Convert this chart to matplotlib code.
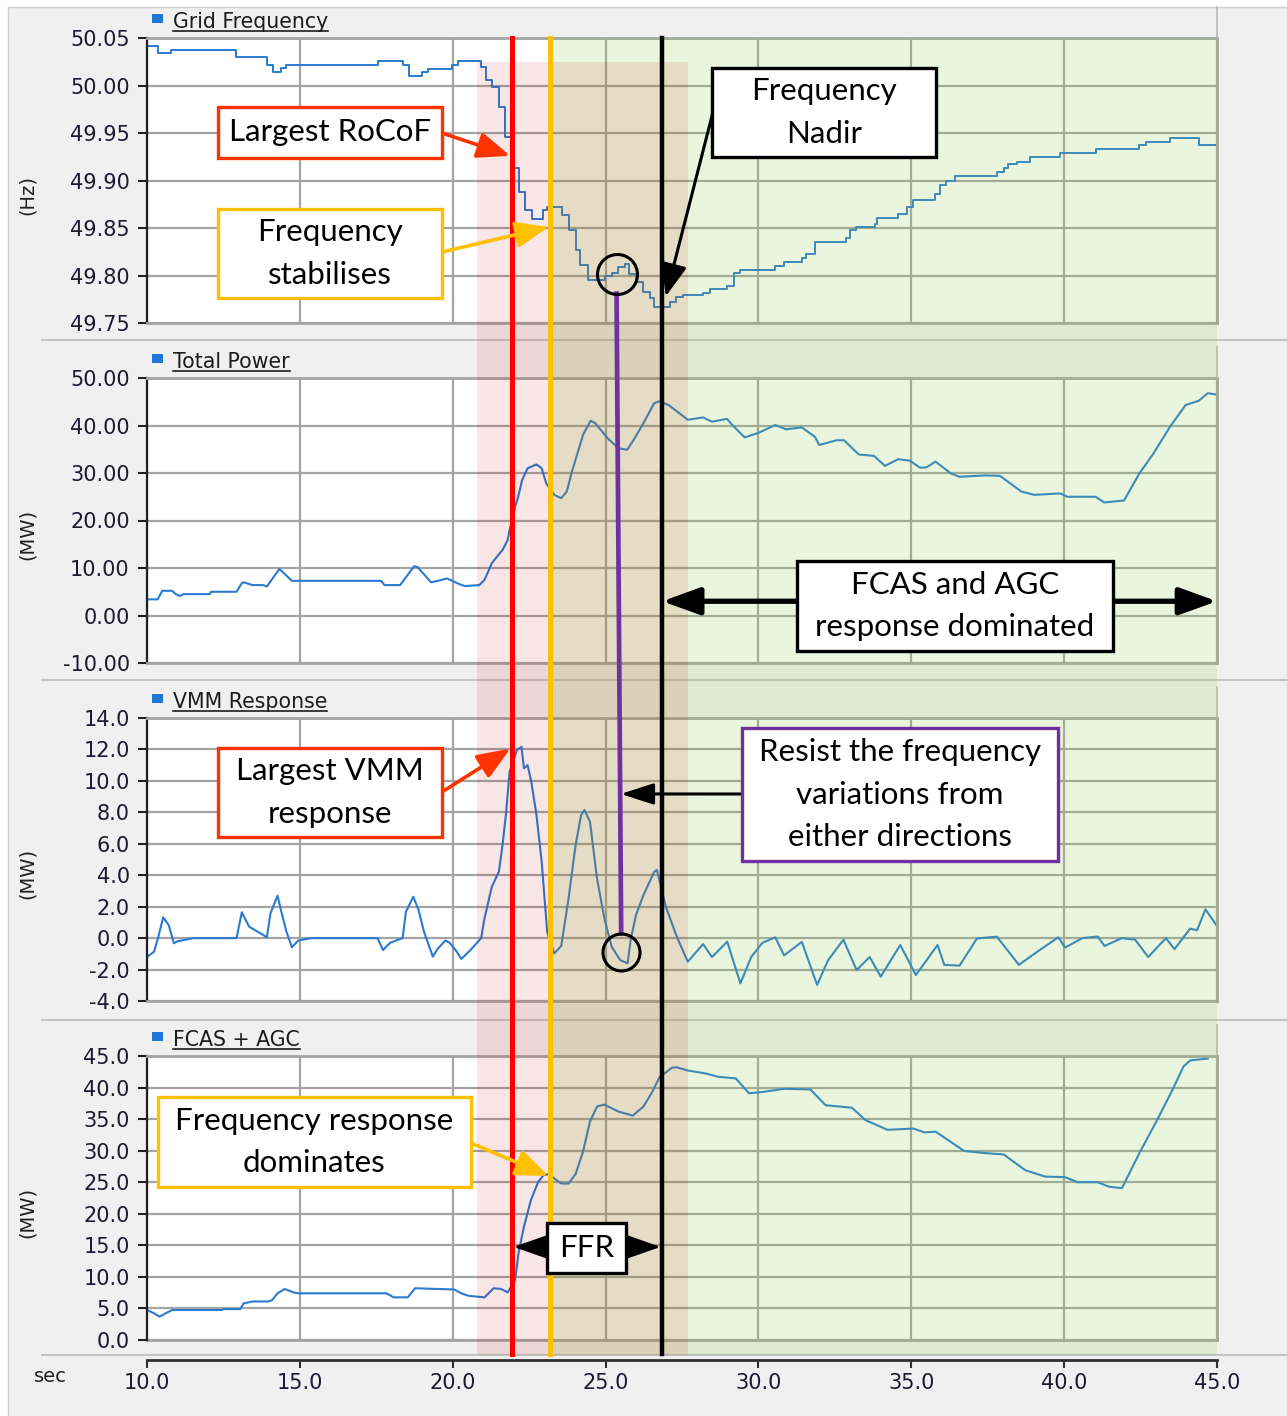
import matplotlib
matplotlib.use("Agg")
import matplotlib.pyplot as plt
from matplotlib.patches import Rectangle, FancyArrowPatch, ArrowStyle
from matplotlib.lines import Line2D
from matplotlib.ticker import FormatStrFormatter
from matplotlib.transforms import blended_transform_factory, IdentityTransform

plt.rcParams["font.family"] = ["DejaVu Sans"]

# ---- data -------------------------------------------------------------
freq_t = [10.0, 10.36, 10.77, 12.9, 13.92, 14.12, 14.38, 14.55, 17.57, 18.36,
          18.56, 19.0, 19.18, 19.99, 20.17, 20.93, 21.1, 21.3, 21.5, 21.72,
          21.96, 22.16, 22.37, 22.6, 22.95, 23.09, 23.58, 23.8, 24.03, 24.17,
          24.43, 24.98, 25.2, 25.41, 25.63, 25.78, 26.0, 26.22, 26.44, 26.58,
          27.1, 27.3, 27.53, 28.19, 28.4, 28.97, 29.19, 29.4, 30.55, 30.84,
          31.42, 31.56, 31.85, 32.85, 33.0, 33.2, 33.8, 33.87, 34.57, 34.86,
          35.07, 35.79, 35.94, 36.15, 36.43, 37.8, 38.02, 38.16, 38.45, 38.87,
          39.85, 41.03, 42.44, 42.68, 43.47, 44.4, 45.0]
freq_v = [50.042, 50.034, 50.037, 50.030, 50.022, 50.014, 50.018, 50.022, 50.026, 50.022,
          50.010, 50.014, 50.017, 50.022, 50.026, 50.019, 50.006, 49.998, 49.977, 49.946,
          49.913, 49.888, 49.869, 49.860, 49.869, 49.872, 49.864, 49.848, 49.827, 49.811,
          49.795, 49.800, 49.803, 49.809, 49.812, 49.802, 49.793, 49.783, 49.776, 49.767,
          49.772, 49.777, 49.779, 49.782, 49.786, 49.789, 49.803, 49.806, 49.810, 49.814,
          49.818, 49.823, 49.835, 49.839, 49.848, 49.851, 49.854, 49.861, 49.865, 49.872,
          49.880, 49.886, 49.895, 49.900, 49.905, 49.909, 49.913, 49.917, 49.920, 49.925,
          49.929, 49.933, 49.937, 49.941, 49.945, 49.937, 49.937]

power_t = [10.0, 10.35, 10.5, 10.82, 10.94, 11.08, 11.19, 12.05, 12.1, 12.93,
           13.1, 13.16, 13.45, 13.8, 13.92, 14.33, 14.74, 17.66, 17.77, 18.28,
           18.74, 18.85, 19.29, 19.52, 19.81, 19.95, 20.22, 20.4, 20.87, 21.04,
           21.28, 21.45, 21.63, 21.8, 21.86, 22.04, 22.13, 22.27, 22.45, 22.74,
           22.91, 23.06, 23.32, 23.55, 23.73, 23.9, 24.08, 24.26, 24.51, 24.66,
           25.07, 25.42, 25.71, 25.95, 26.24, 26.59, 26.77, 27.06, 27.41, 27.69,
           28.19, 28.48, 28.97, 29.19, 29.55, 29.98, 30.55, 30.91, 31.42, 31.85,
           31.99, 32.56, 32.8, 33.28, 33.78, 34.14, 34.57, 34.95, 35.29, 35.5,
           35.79, 36.3, 36.58, 37.44, 37.9, 38.6, 39.02, 39.88, 40.1, 41.03,
           41.31, 41.96, 42.46, 42.89, 43.47, 43.97, 44.4, 44.7, 45.0]
power_v = [3.4, 3.4, 5.2, 5.2, 4.5, 4.1, 4.5, 4.5, 5.0, 5.0,
           6.8, 7.0, 6.4, 6.4, 6.1, 9.8, 7.3, 7.3, 6.4, 6.4,
           10.4, 10.2, 7.0, 7.3, 7.8, 7.4, 6.6, 6.2, 6.4, 7.5,
           11.0, 12.4, 13.8, 15.9, 18.0, 22.9, 24.7, 28.5, 31.0, 31.8,
           31.0, 27.8, 25.4, 24.7, 26.1, 30.3, 34.1, 38.0, 41.0, 40.5,
           37.3, 35.2, 34.9, 37.3, 40.5, 44.7, 45.1, 44.3, 42.6, 41.2,
           41.7, 40.8, 41.4, 39.8, 37.5, 38.4, 40.1, 39.2, 39.6, 37.6,
           35.9, 36.9, 36.9, 33.9, 33.6, 31.5, 32.9, 32.6, 31.1, 31.2,
           32.4, 29.9, 29.2, 29.5, 29.4, 26.1, 25.4, 25.7, 25.0, 25.0,
           23.8, 24.2, 29.9, 33.8, 39.8, 44.3, 45.2, 46.8, 46.5]

vmm_t = [10.0, 10.23, 10.36, 10.53, 10.71, 10.88, 11.0, 11.52, 12.93, 13.1,
         13.34, 13.8, 13.92, 14.04, 14.27, 14.38, 14.56, 14.74, 14.95, 15.38,
         17.54, 17.72, 17.95, 18.36, 18.47, 18.71, 18.88, 19.06, 19.35, 19.5,
         19.76, 19.9, 20.11, 20.28, 20.58, 20.93, 21.04, 21.28, 21.51, 21.63,
         21.75, 21.86, 22.1, 22.25, 22.33, 22.45, 22.57, 22.74, 22.91, 23.09,
         23.32, 23.55, 23.79, 24.02, 24.2, 24.31, 24.49, 24.72, 24.96, 25.2,
         25.48, 25.72, 25.83, 26.0, 26.24, 26.59, 26.68, 26.97, 27.33, 27.69,
         28.19, 28.48, 28.98, 29.41, 29.77, 30.13, 30.55, 30.84, 31.42, 31.92,
         32.28, 32.78, 33.21, 33.64, 34.0, 34.64, 35.15, 35.86, 36.08, 36.58,
         37.15, 37.8, 38.52, 39.17, 39.81, 40.03, 40.6, 41.1, 41.32, 41.89,
         42.32, 42.75, 43.33, 43.61, 44.12, 44.35, 44.62, 45.0]
vmm_v = [-1.2, -0.87, 0.0, 1.32, 0.83, -0.33, -0.2, 0.0, 0.0, 1.64,
         0.73, 0.2, 0.05, 1.58, 2.7, 1.8, 0.41, -0.58, -0.15, 0.0,
         0.0, -0.76, -0.3, 0.0, 1.68, 2.63, 1.8, 0.41, -1.18, -0.7,
         -0.15, -0.3, -0.8, -1.33, -0.76, 0.0, 1.26, 3.27, 4.22, 5.92,
         8.04, 10.58, 11.96, 12.17, 10.8, 11.0, 9.95, 7.83, 4.86, 0.41,
         -0.97, -0.5, 2.53, 5.92, 7.83, 8.15, 7.4, 3.8, 1.26, -0.55,
         -1.4, -1.6, 0.0, 1.5, 2.74, 4.22, 4.33, 2.0, 0.09, -1.5,
         -0.38, -1.2, -0.23, -2.88, -1.18, -0.3, 0.05, -1.1, -0.24, -2.98,
         -1.4, -0.1, -2.03, -1.2, -2.45, -0.44, -2.35, -0.44, -1.7, -1.75,
         -0.02, 0.09, -1.7, -0.8, 0.05, -0.6, 0.0, 0.1, -0.5, 0.0,
         -0.1, -1.2, 0.0, -0.7, 0.6, 0.5, 1.83, 0.77]

fcas_t = [10.0, 10.23, 10.41, 10.6, 10.82, 12.45, 12.5, 13.05, 13.16, 13.45,
          13.95, 14.09, 14.27, 14.5, 14.79, 14.95, 17.83, 18.07, 18.53, 18.77,
          20.05, 20.28, 20.52, 21.04, 21.34, 21.57, 21.8, 22.04, 22.16, 22.33,
          22.56, 22.8, 22.97, 23.15, 23.32, 23.55, 23.79, 24.02, 24.26, 24.49,
          24.72, 24.96, 25.42, 25.89, 26.24, 26.53, 26.77, 27.0, 27.17, 27.33,
          27.69, 28.26, 28.69, 29.26, 29.69, 30.13, 30.84, 31.7, 32.2, 33.06,
          33.5, 34.22, 35.07, 35.43, 35.8, 36.73, 37.44, 38.02, 38.73, 39.37,
          40.03, 40.45, 41.1, 41.46, 41.89, 42.46, 43.04, 43.54, 43.9, 44.12, 44.7]
fcas_v = [4.75, 4.23, 3.7, 4.2, 4.75, 4.75, 4.9, 4.9, 5.8, 6.1,
          6.1, 6.3, 7.4, 8.08, 7.55, 7.4, 7.4, 6.76, 6.76, 8.2,
          8.0, 7.4, 7.0, 6.76, 8.2, 8.1, 7.55, 9.5, 14.0, 17.95,
          22.2, 25.1, 26.1, 26.3, 25.6, 24.8, 24.8, 26.3, 29.8, 34.6,
          37.0, 37.3, 36.2, 35.55, 37.0, 39.35, 41.7, 42.5, 43.15, 43.2,
          42.7, 42.25, 41.7, 41.45, 39.1, 39.3, 39.8, 39.7, 37.2, 36.8,
          34.85, 33.3, 33.5, 32.9, 33.0, 29.95, 29.6, 29.4, 26.9, 25.9,
          25.8, 25.0, 25.0, 24.3, 24.05, 29.6, 34.85, 39.6, 43.3, 44.3, 44.6]

panel_names = ["Grid Frequency", "Total Power", "VMM Response", "FCAS + AGC"]
panel_units = ["(Hz)", "(MW)", "(MW)", "(MW)"]
panel_yticks = [[49.75, 49.80, 49.85, 49.90, 49.95, 50.00, 50.05],
                [-10, 0, 10, 20, 30, 40, 50],
                [-4, -2, 0, 2, 4, 6, 8, 10, 12, 14],
                [0, 5, 10, 15, 20, 25, 30, 35, 40, 45]]
panel_fmt = ["%.2f", "%.2f", "%.1f", "%.1f"]
x_ticks = [10, 15, 20, 25, 30, 35, 40, 45]

# event times (s)
t_rocof = 21.94
t_stable = 23.18
t_nadir = 26.85
pink_span = (20.8, 27.7)
green_span = (23.25, 45.0)
circle_freq = (25.36, 49.802)
circle_vmm = (25.51, -0.88)

# ---- layout -------------------------------------------------------------
W, H = 1287, 1416
fig = plt.figure(figsize=(W / 100, H / 100), dpi=100, facecolor="#f0f0f0")
ID = IdentityTransform()


def dpt(x, y):
    # pixel position measured from the top-left corner -> display coords
    return (x, H - y)


# white outer margin and panel frame
fig.add_artist(Rectangle((0, 0), 8, H, transform=ID, fc="white", lw=0, zorder=-5))
fig.add_artist(Rectangle((0, H - 7), W, 7, transform=ID, fc="white", lw=0, zorder=-5))
fig.add_artist(Line2D([8, 8], [0, H - 7], transform=ID, color="#d0d0d0", lw=1))
fig.add_artist(Line2D([8, W], [H - 7, H - 7], transform=ID, color="#d0d0d0", lw=1))
for ysep in [340, 680, 1020, 1355]:
    fig.add_artist(Line2D([42, W], [H - ysep, H - ysep], transform=ID,
                          color="#c4c4c4", lw=1.5))

panel_px = [(38, 323), (378, 663), (718, 1001), (1056, 1340)]
series = [(freq_t, freq_v), (power_t, power_v), (vmm_t, vmm_v), (fcas_t, fcas_v)]
grid_c = "#a4a4a4"
line_c = "#2a7ad2"
tick_c = "#1a1a30"
axes = []

for i, (top, bot) in enumerate(panel_px):
    ax = fig.add_axes([147 / W, 1 - bot / H, 1070 / W, (bot - top) / H])
    axes.append(ax)
    t, v = series[i]
    if i == 0:
        ax.plot(t, v, color=line_c, lw=1.4, drawstyle="steps-post")
    else:
        ax.plot(t, v, color=line_c, lw=1.5)
    ax.set_facecolor("white")
    ax.set_xlim(10, 45)
    ax.set_ylim(panel_yticks[i][0], panel_yticks[i][-1])
    ax.set_xticks(x_ticks)
    ax.set_yticks(panel_yticks[i])
    ax.yaxis.set_major_formatter(FormatStrFormatter(panel_fmt[i]))
    ax.grid(True, color=grid_c, lw=1.6)
    ax.set_axisbelow(True)
    for s in ["top", "right", "bottom"]:
        ax.spines[s].set_color(grid_c)
        ax.spines[s].set_linewidth(2)
    ax.spines["left"].set_color("#202020")
    ax.spines["left"].set_linewidth(1.6)
    ax.tick_params(axis="y", direction="out", length=6.5, width=1.5, color="#202020",
                   labelsize=15, labelcolor=tick_c, pad=6)
    ax.set_ylabel(panel_units[i], fontsize=14, color="#202020")
    ax.yaxis.set_label_coords(-110 / 1070, 0.45)
    if i < 3:
        ax.tick_params(axis="x", length=0, labelbottom=False)
    else:
        ax.spines["bottom"].set_position(("outward", 14.4))
        ax.spines["bottom"].set_color("#303030")
        ax.xaxis.set_major_formatter(FormatStrFormatter("%.1f"))
        ax.tick_params(axis="x", direction="out", length=5.5, width=1.5, color="#303030",
                       labelsize=15, labelcolor=tick_c, pad=4)
        ax.axhline(panel_yticks[i][0], color=grid_c, lw=2, clip_on=False)

    # legend strip above each plot
    fig.add_artist(Line2D([1217, 1217], [H - top + 31, H - top], transform=ID,
                          color="#b8b8b8", lw=1.2))
    fig.add_artist(Rectangle(dpt(152, top - 15), 11, 9, transform=ID,
                             fc="#1e78d8", lw=0))

fig.text(50, H - 1376, "sec", transform=ID, ha="center", va="center",
         fontsize=14, color="#202020")

# legend labels with underline
fig.canvas.draw()
renderer = fig.canvas.get_renderer()
for i, (top, bot) in enumerate(panel_px):
    lab = fig.text(173, H - (top - 16), panel_names[i], transform=ID, ha="left",
                   va="center", fontsize=14.8, color="#1c1c1c")
    bb = lab.get_window_extent(renderer)
    fig.add_artist(Line2D([bb.x0, bb.x1], [bb.y0 + 1, bb.y0 + 1], transform=ID,
                          color="#1c1c1c", lw=1.2))

ax1, ax2, ax3, ax4 = axes

# ---- shaded regions and event lines ------------------------------------
bt = blended_transform_factory(ax1.transData, ID)
fig.add_artist(Rectangle((green_span[0], H - 1355), green_span[1] - green_span[0], 1355 - 38,
                         transform=bt, fc="#92d050", alpha=0.2, lw=0, zorder=5))
fig.add_artist(Rectangle((pink_span[0], H - 1355), pink_span[1] - pink_span[0], 1355 - 62,
                         transform=bt, fc="#c00000", alpha=0.1, lw=0, zorder=6))

for t_ev, col, lw in [(t_rocof, "#ff0000", 3.6), (t_stable, "#ffc000", 3.6),
                      (t_nadir, "#000000", 3.2)]:
    fig.add_artist(Line2D([t_ev, t_ev], [H - 38, H - 1354], transform=bt,
                          color=col, lw=lw, zorder=10))

# circles and the purple link between them
r1, r3 = 20, 18.5
fig.add_artist(Line2D([circle_freq[0]], [circle_freq[1]], transform=ax1.transData,
                      marker="o", ms=2 * r1 * 0.72, mfc="none", mec="black", mew=2.2,
                      zorder=12))
fig.add_artist(Line2D([circle_vmm[0]], [circle_vmm[1]], transform=ax3.transData,
                      marker="o", ms=2 * r3 * 0.72, mfc="none", mec="black", mew=2.2,
                      zorder=12))
p1 = ax1.transData.transform(circle_freq)
p3 = ax3.transData.transform(circle_vmm)
fig.add_artist(Line2D([p1[0], p3[0]], [p1[1] - r1, p3[1] + r3], transform=ID,
                      color="#7030a0", lw=3.4, zorder=11))


# ---- annotation boxes and arrows ---------------------------------------
def box(x0, y0, x1, y1, ec, text):
    fig.add_artist(Rectangle(dpt(x0, y1), x1 - x0, y1 - y0, transform=ID,
                             fc="white", ec=ec, lw=2.4, zorder=20))
    fig.text((x0 + x1) / 2, H - (y0 + y1) / 2, text, transform=ID, ha="center",
             va="center", fontsize=22.5, family="Lato", color="black",
             linespacing=1.63, zorder=21)


def arrow(start, end, col, lw=2.2, hl=20, hw=8, style="-|>", z=19):
    fig.add_artist(FancyArrowPatch(start, end, transform=ID,
                                   arrowstyle=ArrowStyle(style, head_length=hl, head_width=hw),
                                   mutation_scale=1, lw=lw, color=col,
                                   shrinkA=0, shrinkB=0, zorder=z))


red_c, yel_c, pur_c = "#ff3300", "#ffc000", "#7030a0"

arrow(dpt(442, 133), ax1.transData.transform((t_rocof - 0.06, 49.926)), red_c, lw=2.6)
box(218, 107, 442, 158, red_c, "Largest RoCoF")

arrow(dpt(442, 252), ax1.transData.transform((t_stable - 0.05, 49.851)), yel_c, lw=2.6)
box(218, 209, 442, 298, yel_c, "Frequency\nstabilises")

arrow(dpt(713, 112), ax1.transData.transform((26.97, 49.778)), "black", lw=2.2)
box(712, 68, 936, 157, "black", "Frequency\nNadir")

arrow(ax2.transData.transform((t_nadir, 3.0)), ax2.transData.transform((45.0, 3.0)),
      "black", lw=3.8, hl=23, hw=8.3, style="<|-|>")
box(797, 561, 1113, 651, "black", "FCAS and AGC\nresponse dominated")

arrow(dpt(442, 792), ax3.transData.transform((t_rocof - 0.06, 12.05)), red_c, lw=2.6)
box(218, 748, 442, 837, red_c, "Largest VMM\nresponse")

arrow(dpt(745, 794), ax3.transData.transform((25.5, 9.17)), "black", lw=2.2, hl=20, hw=6.5)
box(742, 728, 1058, 861, pur_c, "Resist the frequency\nvariations from\neither directions")

arrow(dpt(471, 1143), ax4.transData.transform((t_stable - 0.05, 26.0)), yel_c, lw=2.6)
box(158, 1097, 471, 1187, yel_c, "Frequency response\ndominates")

arrow(ax4.transData.transform((t_rocof + 0.05, 14.75)), ax4.transData.transform((t_nadir - 0.05, 14.75)),
      "black", lw=2, hl=24, hw=8.4, style="<|-|>")
box(547, 1223, 626, 1273, "black", "FFR")

fig.savefig("out.png", dpi=100, facecolor=fig.get_facecolor())
